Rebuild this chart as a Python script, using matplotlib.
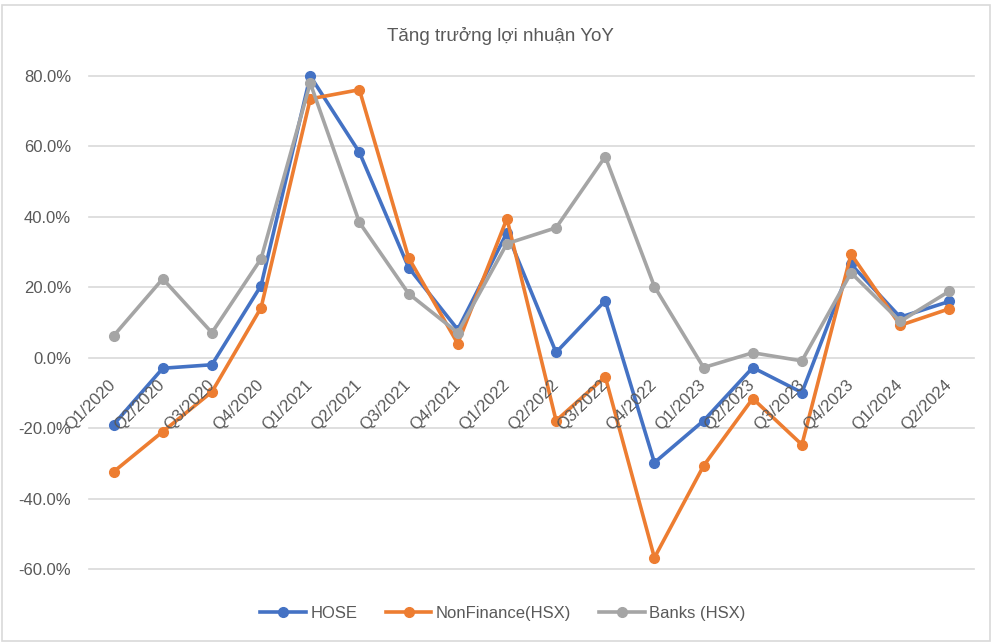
import matplotlib
matplotlib.use("Agg")
import matplotlib.pyplot as plt
from matplotlib.patches import Rectangle

quarters = ["Q1/2020", "Q2/2020", "Q3/2020", "Q4/2020",
            "Q1/2021", "Q2/2021", "Q3/2021", "Q4/2021",
            "Q1/2022", "Q2/2022", "Q3/2022", "Q4/2022",
            "Q1/2023", "Q2/2023", "Q3/2023", "Q4/2023",
            "Q1/2024", "Q2/2024"]
hose = [-19.0, -3.0, -2.0, 20.5, 80.0, 58.3, 25.6, 8.0, 35.5, 1.5, 16.2, -29.8,
        -17.9, -2.8, -9.9, 26.5, 11.5, 16.0]
nonfin = [-32.4, -21.0, -9.7, 14.2, 73.5, 76.1, 28.4, 4.0, 39.5, -17.9, -5.4, -56.8,
          -30.7, -11.6, -24.7, 29.4, 9.2, 13.9]
banks = [6.2, 22.4, 7.1, 28.1, 78.0, 38.4, 18.2, 7.1, 32.4, 36.9, 57.1, 20.2,
         -2.8, 1.4, -0.9, 24.1, 10.3, 18.9]
series_names = ["HOSE", "NonFinance(HSX)", "Banks (HSX)"]
yticks = [-60, -40, -20, 0, 20, 40, 60, 80]

colors = ["#4472C4", "#ED7D31", "#A5A5A5"]
txt = "#595959"
font = ["Liberation Sans", "DejaVu Sans"]
plt.rcParams["font.family"] = font

fig = plt.figure(figsize=(10, 6.44), dpi=100)
fig.patches.append(Rectangle((0.002, 0.005), 0.988, 0.987, transform=fig.transFigure,
                             fill=False, edgecolor="#D9D9D9", linewidth=1.2))
ax = fig.add_axes([0.089, 0.1165, 0.885, 0.7655])

x = list(range(len(quarters)))
for vals, name, c in zip([hose, nonfin, banks], series_names, colors):
    ax.plot(x, vals, color=c, linewidth=2.6, marker="o", markersize=7,
            label=name, solid_joinstyle="round", clip_on=False)

ax.set_xlim(-0.5, len(quarters) - 0.5)
ax.set_ylim(-60, 80)
ax.set_yticks(yticks)
ax.set_yticklabels([f"{v:.1f}%" for v in yticks], color=txt, fontsize=12)
ax.yaxis.grid(True, color="#D9D9D9", linewidth=1.2, clip_on=False)
for gl in ax.get_ygridlines():
    gl.set_clip_on(False)
ax.set_axisbelow(True)
ax.tick_params(axis="y", length=0, pad=13)
for s in ax.spines.values():
    s.set_visible(False)

ax.set_xticks([])
for i, q in enumerate(quarters):
    ax.annotate(q, xy=(i, 0), xytext=(0, -18), textcoords="offset points",
                ha="right", va="center", rotation=45, rotation_mode="anchor",
                color=txt, fontsize=12, annotation_clip=False)

fig.text(0.5, 0.944, "Tăng trưởng lợi nhuận YoY", ha="center", va="center",
         color=txt, fontsize=13.5)

fig.legend(loc="center", bbox_to_anchor=(0.503, 0.048), ncol=3, frameon=False,
           fontsize=12, labelcolor=txt, handlelength=2.75, columnspacing=1.7,
           handletextpad=0.25)

fig.savefig("out.png", dpi=100)
